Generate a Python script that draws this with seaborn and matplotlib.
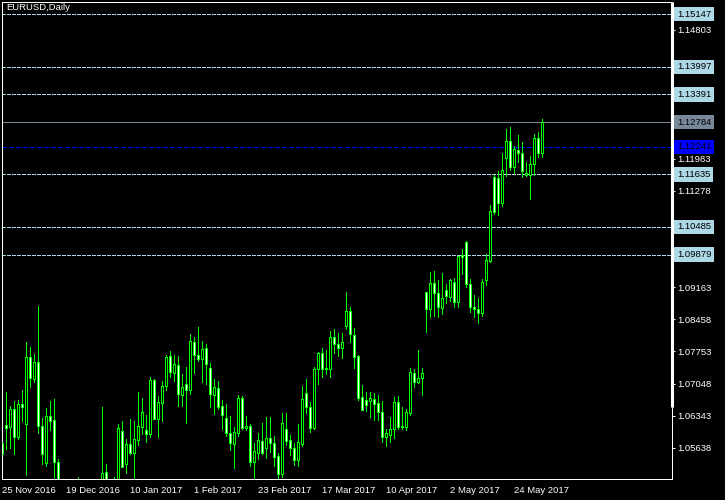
import numpy as np
import pandas as pd
import seaborn as sns
import matplotlib
matplotlib.use("Agg")
import matplotlib.pyplot as plt
import matplotlib.transforms as mtransforms

# ---------------- data (EURUSD daily) ----------------
opens = [1.05745, 1.06140, 1.06103, 1.06484, 1.05883, 1.06594, 1.06168, 1.07625, 1.07155, 1.07515,
         1.06111, 1.05313, 1.06331, 1.06243, 1.05322, 1.04100, 1.04500, 1.04000, 1.03800, 1.04250,
         1.04400, 1.04550, 1.04560, 1.04450, 1.04100, 1.04850, 1.05116, 1.04600, 1.04050, 1.04900,
         1.06002, 1.05291, 1.05717, 1.05532, 1.05817, 1.06103, 1.06030, 1.05949, 1.07127, 1.06278,
         1.06616, 1.06995, 1.07647, 1.07287, 1.07463, 1.06791, 1.07033, 1.06915, 1.07954, 1.07669,
         1.07581, 1.07835, 1.07384, 1.06791, 1.06958, 1.06550, 1.06287, 1.05958, 1.05730, 1.05971,
         1.06726, 1.06067, 1.06118, 1.05335, 1.05519, 1.05782, 1.05629, 1.05848, 1.05738, 1.05453,
         1.05058, 1.06045, 1.05804, 1.05629, 1.05379, 1.05723, 1.06835, 1.06528, 1.06081, 1.07362,
         1.07712, 1.07362, 1.07362, 1.08063, 1.07910, 1.07822, 1.08318, 1.08640, 1.08114, 1.07653,
         1.06756, 1.06688, 1.06673, 1.06710, 1.06622, 1.06418, 1.05870, 1.05921, 1.06045, 1.06638,
         1.06089, 1.06103, 1.06410, 1.07274, 1.07089, 1.07164, 1.09050, 1.08677, 1.09248, 1.09028,
         1.08699, 1.09101, 1.08954, 1.09270, 1.08844, 1.09868, 1.10147, 1.09232, 1.08734, 1.08684,
         1.08603, 1.09314, 1.09737, 1.11572, 1.11564, 1.11015, 1.11989, 1.12362, 1.11805, 1.12171,
         1.12099, 1.11623, 1.11623, 1.11858, 1.12428, 1.12114]
highs = [1.05789, 1.06864, 1.06557, 1.06666, 1.06688, 1.06908, 1.07960, 1.07851, 1.07697, 1.08750,
         1.06300, 1.06513, 1.06666, 1.06710, 1.05394, 1.04750, 1.04850, 1.04200, 1.04450, 1.05000,
         1.04800, 1.04700, 1.04700, 1.04800, 1.04900, 1.06535, 1.05285, 1.04900, 1.05000, 1.06155,
         1.06228, 1.05833, 1.06272, 1.06228, 1.06864, 1.06732, 1.06353, 1.07186, 1.07149, 1.06776,
         1.07105, 1.07683, 1.07763, 1.07683, 1.07653, 1.07258, 1.07412, 1.08136, 1.08064, 1.08289,
         1.07982, 1.07910, 1.07500, 1.07149, 1.07105, 1.06682, 1.06599, 1.06344, 1.06096, 1.06791,
         1.06776, 1.06337, 1.06162, 1.05752, 1.05958, 1.06184, 1.06316, 1.06316, 1.05899, 1.05519,
         1.06397, 1.06397, 1.05921, 1.05738, 1.06162, 1.06995, 1.07149, 1.06638, 1.07405, 1.07747,
         1.07822, 1.07785, 1.08208, 1.08245, 1.08151, 1.08151, 1.09057, 1.08734, 1.08261, 1.07676,
         1.07017, 1.06870, 1.06870, 1.06835, 1.06798, 1.06666, 1.06045, 1.06322, 1.06761, 1.06783,
         1.06528, 1.06491, 1.07384, 1.07362, 1.07785, 1.07384, 1.09063, 1.09489, 1.09511, 1.09320,
         1.09467, 1.09226, 1.09342, 1.09364, 1.09853, 1.09994, 1.10175, 1.09342, 1.08990, 1.08919,
         1.09342, 1.09890, 1.10958, 1.11623, 1.11717, 1.12112, 1.12632, 1.12669, 1.12259, 1.12500,
         1.12340, 1.11901, 1.12046, 1.12522, 1.12559, 1.12851]
lows = [1.05460, 1.05620, 1.05642, 1.05510, 1.05833, 1.06234, 1.05043, 1.06980, 1.07083, 1.05971,
        1.05291, 1.05247, 1.06030, 1.04800, 1.03670, 1.03950, 1.03900, 1.03520, 1.03700, 1.04100,
        1.04250, 1.04450, 1.04300, 1.03750, 1.04050, 1.04500, 1.04550, 1.03400, 1.03900, 1.04850,
        1.05210, 1.05094, 1.05504, 1.04824, 1.05708, 1.05942, 1.05767, 1.05877, 1.06272, 1.05877,
        1.06234, 1.06908, 1.07199, 1.07112, 1.06563, 1.06563, 1.06190, 1.06820, 1.07287, 1.07544,
        1.07089, 1.07039, 1.06535, 1.06388, 1.06491, 1.06052, 1.05905, 1.05598, 1.05204, 1.05905,
        1.06052, 1.06030, 1.05247, 1.04824, 1.05388, 1.05504, 1.05416, 1.05548, 1.05241, 1.04824,
        1.04996, 1.05701, 1.05482, 1.05256, 1.05241, 1.05679, 1.06410, 1.05993, 1.06045, 1.07039,
        1.07186, 1.07258, 1.07186, 1.07726, 1.07660, 1.07603, 1.08239, 1.07967, 1.07397, 1.06688,
        1.06462, 1.06447, 1.06322, 1.06250, 1.06250, 1.05774, 1.05686, 1.05774, 1.05848, 1.06052,
        1.06052, 1.06030, 1.06359, 1.06980, 1.07068, 1.06798, 1.08186, 1.08507, 1.08531, 1.08516,
        1.08574, 1.08822, 1.08860, 1.08734, 1.08734, 1.09452, 1.09160, 1.08625, 1.08516, 1.08384,
        1.08531, 1.09210, 1.09708, 1.10768, 1.10746, 1.10943, 1.11601, 1.11733, 1.11673, 1.11915,
        1.11586, 1.11607, 1.11090, 1.11623, 1.12024, 1.12024]
closes = [1.05504, 1.06081, 1.06491, 1.05870, 1.06594, 1.06541, 1.07625, 1.07177, 1.07515, 1.06125,
          1.05510, 1.06331, 1.06234, 1.05335, 1.04100, 1.04500, 1.04000, 1.03800, 1.04250, 1.04400,
          1.04550, 1.04560, 1.04450, 1.04100, 1.04850, 1.05087, 1.04600, 1.04050, 1.04900, 1.06074,
          1.05226, 1.05717, 1.05532, 1.05833, 1.06118, 1.06425, 1.05949, 1.07127, 1.06278, 1.06638,
          1.06989, 1.07625, 1.07309, 1.07472, 1.06813, 1.06967, 1.06915, 1.07982, 1.07669, 1.07581,
          1.07800, 1.07484, 1.06813, 1.06967, 1.06541, 1.06366, 1.05971, 1.05752, 1.05993, 1.06726,
          1.06067, 1.06118, 1.05335, 1.05577, 1.05804, 1.05519, 1.05848, 1.05745, 1.05445, 1.05058,
          1.06184, 1.05789, 1.05642, 1.05379, 1.05760, 1.06710, 1.06528, 1.06081, 1.07368, 1.07712,
          1.07362, 1.07384, 1.08063, 1.07910, 1.07822, 1.07967, 1.08640, 1.08129, 1.07638, 1.06726,
          1.06462, 1.06579, 1.06726, 1.06600, 1.06418, 1.05883, 1.05971, 1.06045, 1.06644, 1.06103,
          1.06118, 1.06418, 1.07296, 1.07089, 1.07164, 1.07274, 1.08677, 1.09248, 1.09028, 1.08721,
          1.08919, 1.08976, 1.09320, 1.08831, 1.09853, 1.09831, 1.09226, 1.08721, 1.08677, 1.08603,
          1.09270, 1.09752, 1.10833, 1.10818, 1.11015, 1.11733, 1.12362, 1.11805, 1.12187, 1.12099,
          1.11717, 1.11660, 1.11858, 1.12428, 1.12114, 1.12779]

date_labels = ["25 Nov 2016", "19 Dec 2016", "10 Jan 2017", "1 Feb 2017", "23 Feb 2017",
               "17 Mar 2017", "10 Apr 2017", "2 May 2017", "24 May 2017"]
bars_per_label = 16

price_ticks = [1.05638, 1.06343, 1.07048, 1.07753, 1.08458, 1.09163, 1.09868, 1.10573,
               1.11278, 1.11983, 1.12688, 1.13393, 1.14098, 1.14803]

dashed_levels = [1.15147, 1.13997, 1.13391, 1.11635, 1.10485, 1.09879]
bid_level = 1.12784
blue_level = 1.12241

title = "EURUSD,Daily"

# ---------------- figure ----------------
sns.set_style("dark", {"axes.facecolor": "black", "figure.facecolor": "black",
                       "axes.edgecolor": "white", "text.color": "white",
                       "xtick.color": "white", "ytick.color": "white"})
plt.rcParams["font.family"] = ["Liberation Sans", "DejaVu Sans"]

W, H = 725, 500
fig = plt.figure(figsize=(W / 100, H / 100), dpi=100, facecolor="black")
ax = fig.add_axes([2 / W, 21 / H, 670 / W, 477 / H], facecolor="black")

df = pd.DataFrame({"open": opens, "high": highs, "low": lows, "close": closes})
df["x"] = np.arange(len(df))
df["bear"] = df["close"] < df["open"]
df["bottom"] = df[["open", "close"]].min(axis=1)
df["height"] = (df["open"] - df["close"]).abs()

lime = "#00FF00"
px = 0.72  # one pixel in points

# wicks
ax.vlines(df["x"], df["low"], df["high"], color=lime, lw=px, antialiased=False, zorder=2)
# bodies
ax.bar(df["x"], df["height"], bottom=df["bottom"], width=0.5,
       color=np.where(df["bear"], "white", "black"), edgecolor=lime, linewidth=px,
       antialiased=False, zorder=3)

# horizontal levels
for lv in dashed_levels:
    ax.axhline(lv, color="#ADD8E6", lw=px, ls=(0, (4, 2)), zorder=1, antialiased=False)
ax.axhline(bid_level, color="#778899", lw=px, zorder=1, antialiased=False)
ax.axhline(blue_level, color="#0000FF", lw=1.0, ls=(0, (3, 1.5)), zorder=1, antialiased=False)

ax.set_xlim(-0.075, 167.43)
ax.set_ylim(1.04956, 1.15417)

# axes / ticks
for s in ax.spines.values():
    s.set_color("white")
    s.set_linewidth(px)
ax.grid(False)

# tick labels that sit under a level box are left blank (the box hides them)
boxed = dashed_levels + [bid_level, blue_level]
tick_texts = []
for v in price_ticks:
    covered = min(abs(v - b) for b in boxed) < 0.0015
    tick_texts.append("" if covered else f"{v:.5f}")

ax.yaxis.tick_right()
ax.set_yticks(price_ticks)
ax.set_yticklabels(tick_texts)
ax.tick_params(axis="y", direction="out", length=2.5, width=px, pad=1.5,
               labelsize=6.8, colors="white")

ax.set_xticks([i * bars_per_label for i in range(len(date_labels))])
ax.set_xticklabels(date_labels, ha="left")
ax.tick_params(axis="x", direction="out", length=3, width=px, pad=2,
               labelsize=6.8, colors="white")
for lab in ax.get_xticklabels():
    lab.set_horizontalalignment("left")

# thick right-edge segment
ax.plot([1, 1], [0.151, 1], transform=ax.transAxes, color="white", lw=2.2,
        clip_on=False, solid_capstyle="butt", zorder=6)

# level labels on the price scale
trans = mtransforms.offset_copy(
    mtransforms.blended_transform_factory(ax.transAxes, ax.transData),
    fig=fig, x=5, y=0, units="dots")
for lv in dashed_levels:
    ax.text(1.0, lv, f"{lv:.5f}", transform=trans, ha="left", va="center",
            fontsize=6.8, color="black", clip_on=False, zorder=10,
            bbox=dict(boxstyle="square,pad=0.28", facecolor="#ADD8E6", edgecolor="none"))
ax.text(1.0, bid_level, f"{bid_level:.5f}", transform=trans, ha="left", va="center",
        fontsize=6.8, color="black", clip_on=False, zorder=10,
        bbox=dict(boxstyle="square,pad=0.28", facecolor="#778899", edgecolor="none"))
ax.text(1.0, blue_level, f"{blue_level:.5f}", transform=trans, ha="left", va="center",
        fontsize=6.8, color="black", clip_on=False, zorder=10,
        bbox=dict(boxstyle="square,pad=0.28", facecolor="#0000FF", edgecolor="none"))

# title
fig.text(6 / W, 1 - 3 / H, title, ha="left", va="top", fontsize=6.8, color="white")

fig.savefig("out.png", dpi=100, facecolor="black")
